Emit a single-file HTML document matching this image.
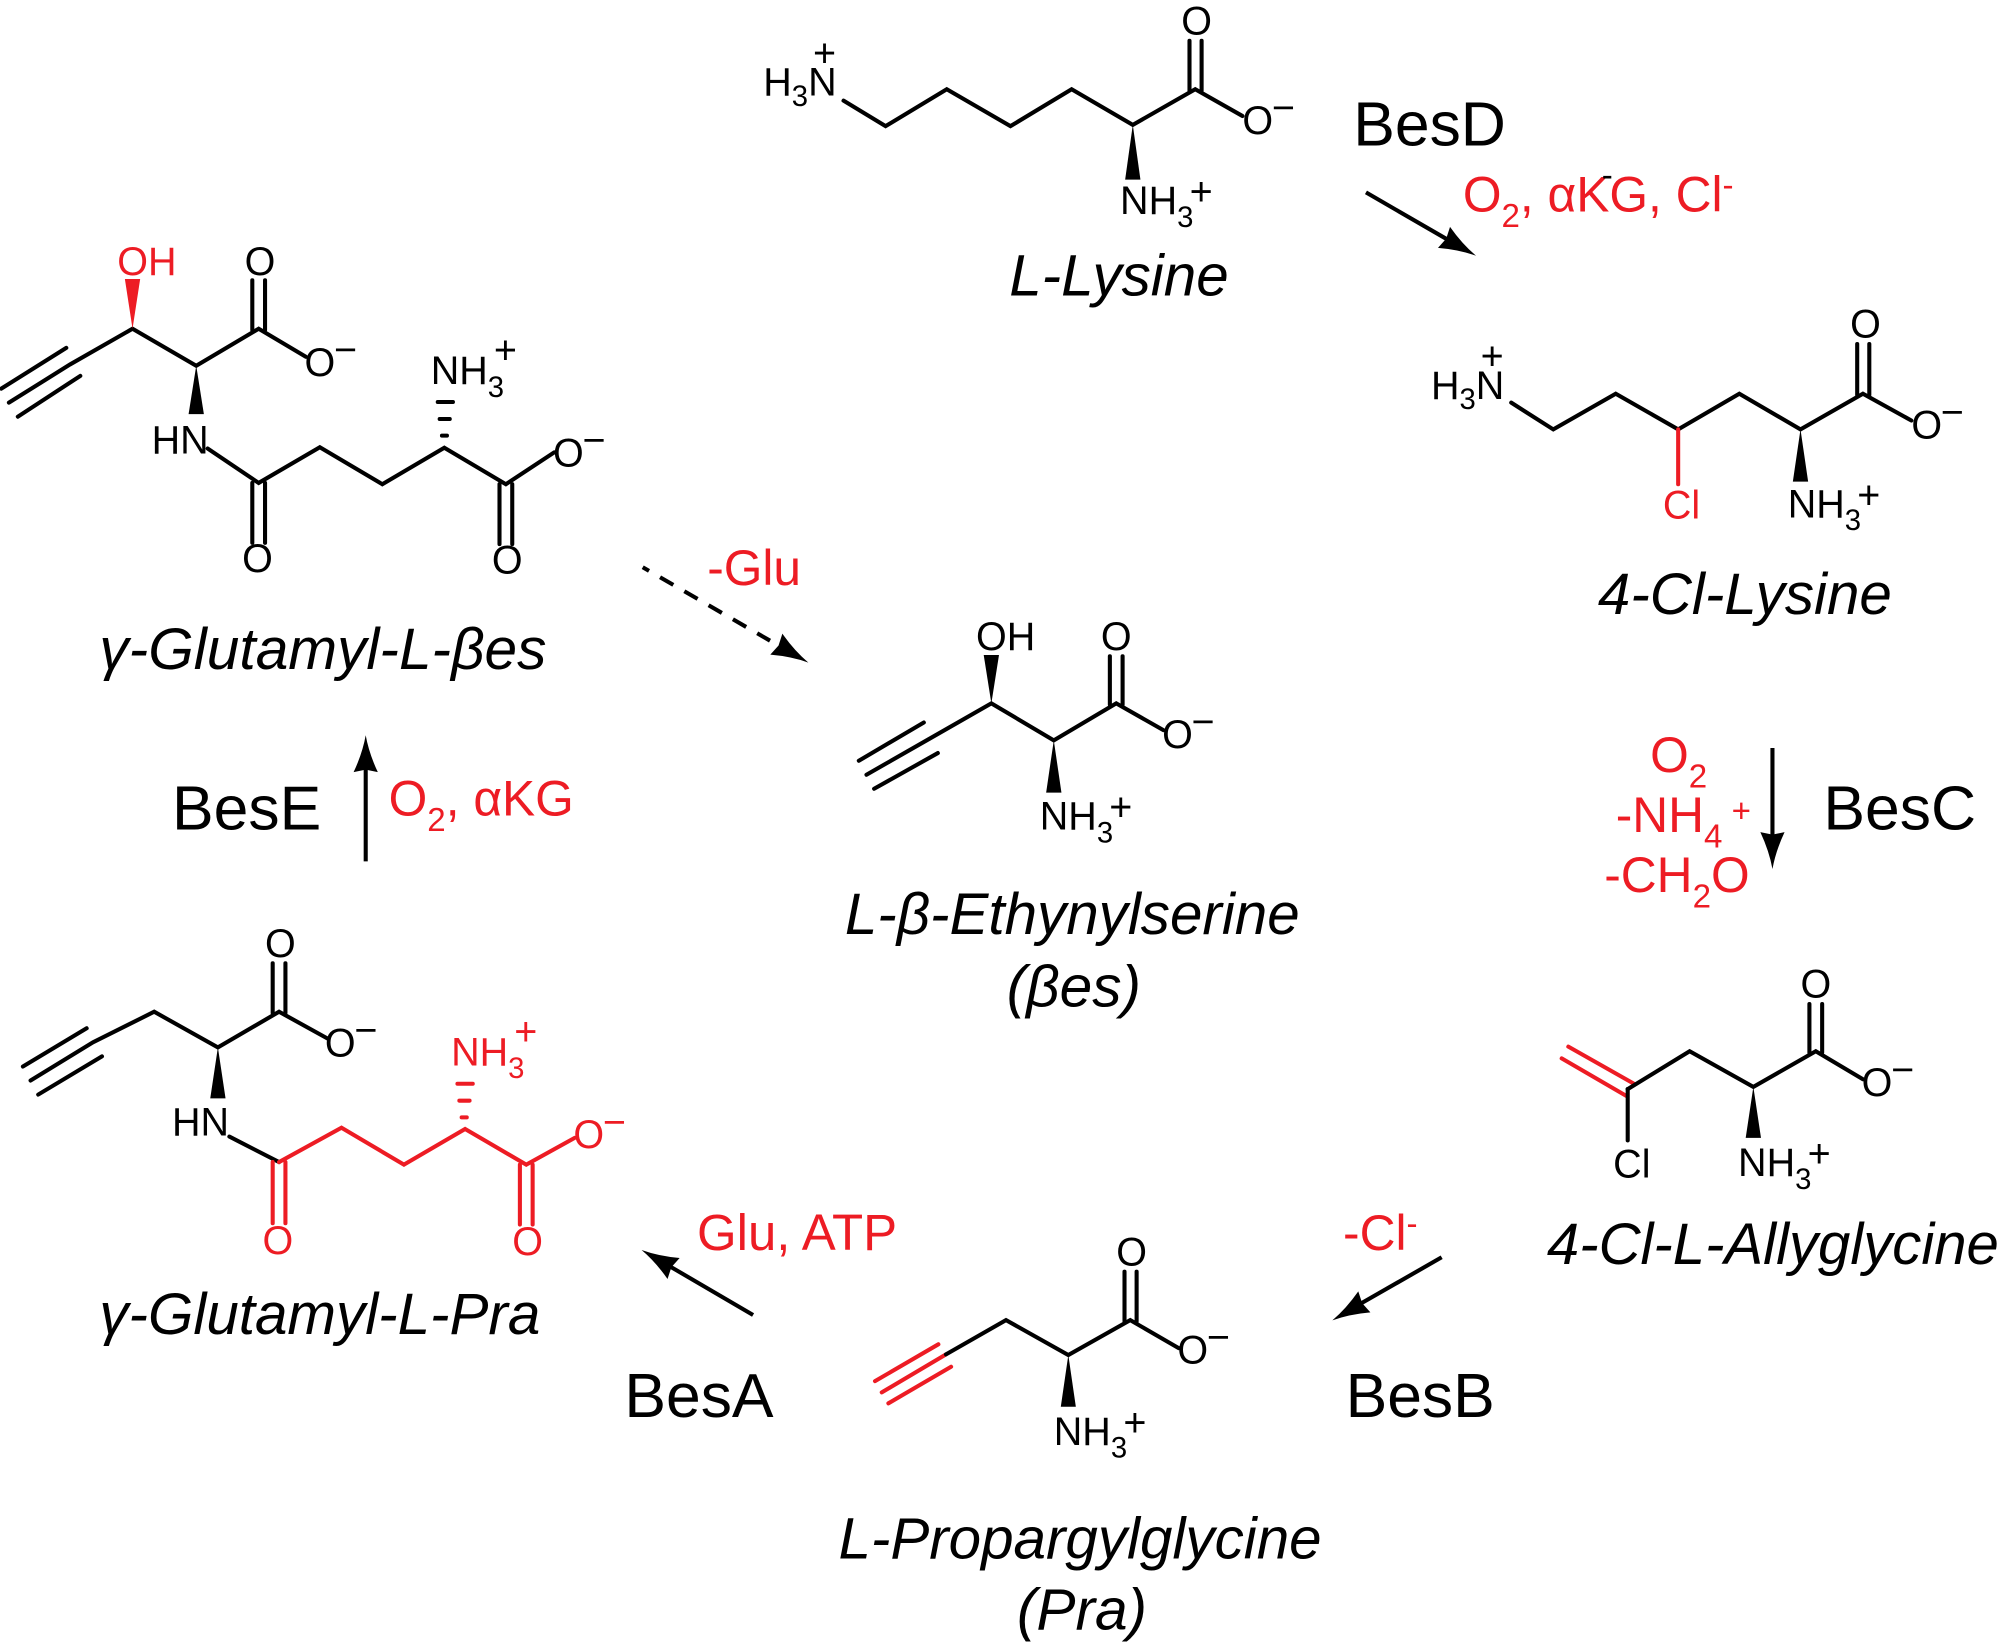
<!DOCTYPE html>
<html><head><meta charset="utf-8"><style>
html,body{margin:0;padding:0;background:#fff;}
svg{display:block;}
text{font-family:"Liberation Sans",sans-serif;}
.a{font-size:31px;fill:#000;}
.r{fill:#ed1c24;}
.e{font-size:49px;fill:#000;}
.n{font-size:46px;font-style:italic;fill:#000;}
.c{font-size:39px;fill:#ed1c24;}
.b{fill:none;stroke:#000;stroke-width:3.2;stroke-linejoin:miter;stroke-linecap:round;}
.br{fill:none;stroke:#ed1c24;stroke-width:3.2;stroke-linecap:round;}
.ar{fill:none;stroke:#000;stroke-width:3.2;}
.h{fill:none;stroke:#000;stroke-width:3.1;stroke-linecap:round;}
</style></head><body>
<svg width="1998" height="1648" viewBox="0 0 1568 1293.33" xmlns="http://www.w3.org/2000/svg">
<defs><path id="head" d="M0 0Q-14 -2.5 -29 -9.5L-27 0L-29 9.5Q-14 2.5 0 0Z" fill="#000"/></defs>

<!-- L-Lysine -->
<path class="b" d="M662 79L695 99L743 70L793 99L841 70L889 98L938 70L975 91"/>
<path class="b" d="M933.5 71V32M943 71V32"/>
<path d="M889 98L883 141H895Z"/>
<text class="a" x="599" y="75">H<tspan font-size="23" dy="8">3</tspan><tspan dy="-8">N</tspan></text>
<text class="a" x="638" y="52">+</text>
<text class="a" x="927" y="27">O</text>
<text class="a" x="975" y="105">O<tspan dy="-10" dx="-1">−</tspan></text>
<text class="a" x="879" y="168">NH<tspan font-size="23" dy="10">3</tspan><tspan dx="-3" dy="-17">+</tspan></text>
<text class="n" x="792" y="232" style="font-size:45.8px">L-Lysine</text>

<!-- BesD -->
<text class="e" x="1062" y="114">BesD</text>
<path class="ar" d="M1072 151L1136 188"/>
<use href="#head" transform="translate(1158.4 200.7) rotate(29.8)"/>
<text class="c" x="1148" y="166">O<tspan font-size="26" dy="12">2</tspan><tspan dy="-12">, αKG, Cl</tspan><tspan font-size="26" dy="-12">-</tspan></text>
<text x="1257" y="146" font-size="26" fill="#000">-</text>

<!-- 4-Cl-Lysine -->
<path class="b" d="M1186 316L1219 337L1268 309L1317 337L1365 309L1413 337L1462 309L1500 330"/>
<path class="b" d="M1457.5 310V270M1467 310V270"/>
<path class="br" d="M1317 337V380"/>
<path d="M1413 337L1407 378H1419Z"/>
<text class="a" x="1123" y="313">H<tspan font-size="23" dy="8">3</tspan><tspan dy="-8">N</tspan></text>
<text class="a" x="1162" y="290">+</text>
<text class="a" x="1452" y="265">O</text>
<text class="a" x="1500" y="344">O<tspan dy="-10" dx="-1">−</tspan></text>
<text class="a r" x="1305" y="407">Cl</text>
<text class="a" x="1403" y="406">NH<tspan font-size="23" dy="10">3</tspan><tspan dx="-3" dy="-17">+</tspan></text>
<text class="n" x="1254" y="482" style="font-size:45.8px">4-Cl-Lysine</text>

<!-- gamma-Glutamyl-L-bes -->
<path class="b" d="M7 316L55 286L104 258L154 287L203 258L240 280"/>
<path class="b" d="M1 305L52 273M14 327L63 295"/>
<path class="b" d="M198 259V220M208 259V220"/>
<path d="M104 258L98 219H110Z" fill="#ed1c24"/>
<path d="M154 287L148 325H160Z"/>
<path class="b" d="M163 352L203 379L251 351L300 380L348.7 351.4L397 380L435 355"/>
<path class="b" d="M198 379V426M208 379V426"/>
<path class="b" d="M392 380V427M402 380V427"/>
<path class="h" d="M343.5 315.5H355.5M345 328.8H353M346.8 341.9H350.8"/>
<text class="a r" x="92" y="216">OH</text>
<text class="a" x="192" y="216">O</text>
<text class="a" x="239" y="295">O<tspan dy="-10" dx="-1">−</tspan></text>
<text class="a" x="119" y="356">HN</text>
<text class="a" x="190" y="449">O</text>
<text class="a" x="386" y="450">O</text>
<text class="a" x="434" y="366">O<tspan dy="-10" dx="-1">−</tspan></text>
<text class="a" x="338" y="301.4">NH<tspan font-size="23" dy="10">3</tspan><tspan dx="-8" dy="-26">+</tspan></text>
<text class="n" x="78" y="525">γ-Glutamyl-L-βes</text>

<!-- dashed -->
<path class="ar" d="M504.4 445.2L604.3 502.8" stroke-dasharray="12 10" stroke-dashoffset="6.3" stroke-width="3.4"/>
<use href="#head" transform="translate(634.4 520) rotate(29.9)"/>
<text class="c" x="555" y="459">-Glu</text>

<!-- L-beta-Ethynylserine -->
<path class="b" d="M680 608L729 580L778 552L827 581L876 552L913 573"/>
<path class="b" d="M674 597L725 567M686 619L736 591"/>
<path class="b" d="M871 553V515M881 553V515"/>
<path d="M778 552L772 514H784Z"/>
<path d="M827 581L821 622H833Z"/>
<text class="a" x="766" y="510">OH</text>
<text class="a" x="864" y="510">O</text>
<text class="a" x="912" y="587">O<tspan dy="-10" dx="-1">−</tspan></text>
<text class="a" x="816" y="651">NH<tspan font-size="23" dy="10">3</tspan><tspan dx="-3" dy="-17">+</tspan></text>
<text class="n" x="663" y="733" style="font-size:45.8px">L-β-Ethynylserine</text>
<text class="n" x="790" y="790">(βes)</text>

<!-- BesC -->
<path class="ar" d="M1391 587V658"/>
<use href="#head" transform="translate(1391 682) rotate(90)"/>
<text class="e" x="1431" y="651">BesC</text>
<text class="c" x="1295" y="606">O<tspan font-size="26" dy="12">2</tspan></text>
<text class="c" x="1268" y="653">-NH<tspan font-size="26" dy="12">4</tspan><tspan font-size="26" dy="-20"> +</tspan></text>
<text class="c" x="1259" y="700">-CH<tspan font-size="26" dy="12">2</tspan><tspan dy="-12">O</tspan></text>

<!-- BesE -->
<path class="ar" d="M287 676V602"/>
<use href="#head" transform="translate(287 577) rotate(-90)"/>
<text class="e" x="135" y="651">BesE</text>
<text class="c" x="305" y="640">O<tspan font-size="26" dy="12">2</tspan><tspan dy="-12">, αKG</tspan></text>

<!-- 4-Cl-L-Allylglycine -->
<path class="br" d="M1230.8 821.4L1281.8 850.2M1225.6 830.6L1276.6 860.2"/>
<path class="b" d="M1277.4 854.7L1326 825L1376 853L1425 825L1462 847"/>
<path class="b" d="M1277.4 854.7V895"/>
<path class="b" d="M1420 826V788M1430 826V788"/>
<path d="M1376 853L1370 893H1382Z"/>
<text class="a" x="1413" y="783">O</text>
<text class="a" x="1461" y="860">O<tspan dy="-10" dx="-1">−</tspan></text>
<text class="a" x="1266" y="924">Cl</text>
<text class="a" x="1364" y="923">NH<tspan font-size="23" dy="10">3</tspan><tspan dx="-3" dy="-17">+</tspan></text>
<text class="n" x="1214" y="992" style="font-size:45.6px">4-Cl-L-Allyglycine</text>

<!-- BesB -->
<path class="ar" d="M1131.4 986.7L1068 1023"/>
<use href="#head" transform="translate(1045.6 1036.2) rotate(150)"/>
<text class="c" x="1054" y="981">-Cl<tspan font-size="26" dy="-12">-</tspan></text>
<text class="e" x="1056" y="1112">BesB</text>

<!-- L-Propargylglycine -->
<path class="br" d="M686.7 1083.9L736.4 1055M692 1092.7L742.4 1062.9M697.2 1101.3L746.4 1072.6"/>
<path class="b" d="M742.4 1062.9L789.5 1036L838.4 1063.4L887 1036L925 1058"/>
<path class="b" d="M882.5 1037V998M892 1037V998"/>
<path d="M838.4 1063.4L832.5 1104H844.3Z"/>
<text class="a" x="876" y="993">O</text>
<text class="a" x="924" y="1070">O<tspan dy="-10" dx="-1">−</tspan></text>
<text class="a" x="827" y="1134">NH<tspan font-size="23" dy="10">3</tspan><tspan dx="-3" dy="-17">+</tspan></text>
<text class="n" x="658" y="1223" style="font-size:45.8px">L-Propargylglycine</text>
<text class="n" x="798" y="1279">(Pra)</text>

<!-- BesA -->
<path class="ar" d="M591 1032L526 994"/>
<use href="#head" transform="translate(503.5 981) rotate(210)"/>
<text class="c" x="547" y="981" style="font-size:40px">Glu, ATP</text>
<text class="e" x="490" y="1112">BesA</text>

<!-- gamma-Glutamyl-L-Pra -->
<path class="b" d="M24 848L73 818L121 794L171 822L219 794L257 815"/>
<path class="b" d="M18 837L68 807M30 859L80 829"/>
<path class="b" d="M214 795V756M224 795V756"/>
<path d="M171 822L165 862H177Z"/>
<path class="b" d="M180 892L219 912"/>
<path class="br" d="M219 912L268 885L317 914L365 886L413 914L451 893"/>
<path class="br" d="M214 912V960M224 912V960"/>
<path class="br" d="M408 914V961M418 914V961"/>
<path class="br" d="M359 850.5H371M360.5 863.8H368.5M362.3 876.9H366.3" stroke-width="3.1"/>
<text class="a" x="208" y="751">O</text>
<text class="a" x="255" y="829">O<tspan dy="-10" dx="-1">−</tspan></text>
<text class="a" x="135" y="891">HN</text>
<text class="a r" x="206" y="984">O</text>
<text class="a r" x="402" y="985">O</text>
<text class="a r" x="450" y="901">O<tspan dy="-10" dx="-1">−</tspan></text>
<text class="a r" x="354" y="836">NH<tspan font-size="23" dy="10">3</tspan><tspan dx="-8" dy="-26">+</tspan></text>
<text class="n" x="78" y="1047" style="font-size:45.8px">γ-Glutamyl-L-Pra</text>
</svg>
</body></html>
